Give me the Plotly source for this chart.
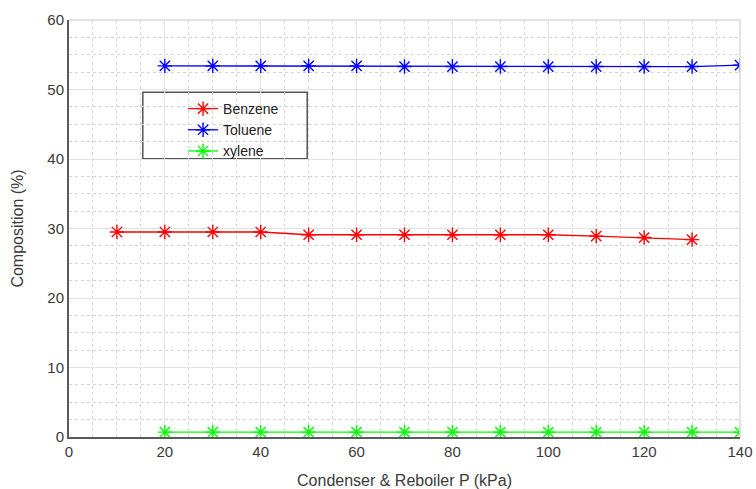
import plotly.graph_objects as go

pressure_benzene = [10, 20, 30, 40, 50, 60, 70, 80, 90, 100, 110, 120, 130]
benzene = [29.5, 29.5, 29.5, 29.5, 29.1, 29.1, 29.1, 29.1, 29.1, 29.1, 28.9, 28.7, 28.4]
pressure = [20, 30, 40, 50, 60, 70, 80, 90, 100, 110, 120, 130, 140]
toluene = [53.4, 53.4, 53.4, 53.4, 53.4, 53.3, 53.3, 53.3, 53.3, 53.3, 53.3, 53.3, 53.5]
xylene = [0.7, 0.7, 0.7, 0.7, 0.7, 0.7, 0.7, 0.7, 0.7, 0.7, 0.7, 0.7, 0.7]

x_ticks = [0, 20, 40, 60, 80, 100, 120, 140]
y_ticks = [0, 10, 20, 30, 40, 50, 60]

font = "Liberation Sans, Arial, sans-serif"

fig = go.Figure()

def add(name, xs, ys, color):
    fig.add_trace(go.Scatter(
        x=xs, y=ys, name=name, mode="lines+markers",
        line=dict(color=color, width=1.3),
        marker=dict(symbol="asterisk-open", size=12, color=color,
                    line=dict(color=color, width=1.4)),
    ))

add("Benzene", pressure_benzene, benzene, "#ff0000")
add("Toluene", pressure, toluene, "#0000ff")
add("xylene", pressure, xylene, "#00ff00")

axis_common = dict(
    showgrid=True, gridcolor="#e2e2e2", gridwidth=1.2,
    showline=True, linecolor="#5a5a5a", linewidth=2,
    ticks="", tickfont=dict(family=font, size=15, color="#3a3a3a"),
    zeroline=False, automargin=False,
)

fig.update_xaxes(
    range=[0, 140], tickvals=x_ticks,
    minor=dict(dtick=5, showgrid=True, gridcolor="#d4d4d4", griddash="dot", gridwidth=1),
    title=dict(text="Condenser & Reboiler P (kPa)", font=dict(family=font, size=16, color="#3a3a3a"), standoff=16),
    **axis_common,
)
fig.update_yaxes(
    range=[0, 60], tickvals=y_ticks,
    minor=dict(dtick=2.5, showgrid=True, gridcolor="#d4d4d4", griddash="dot", gridwidth=1),
    title=dict(text="Composition (%)", font=dict(family=font, size=16, color="#3a3a3a"), standoff=20),
    **axis_common,
)

# plot box top/right edges
fig.add_shape(type="line", xref="paper", yref="paper", x0=0, x1=1, y0=1, y1=1,
              line=dict(color="#d8d8d8", width=1.5))
fig.add_shape(type="line", xref="paper", yref="paper", x0=1, x1=1, y0=0, y1=1,
              line=dict(color="#d8d8d8", width=1.5))
# legend frame
fig.add_shape(type="rect", xref="paper", yref="paper", x0=0.110, x1=0.355, y0=0.667, y1=0.827,
              line=dict(color="#555555", width=1.5), fillcolor="white", layer="between")

fig.update_layout(
    width=756, height=489,
    margin=dict(l=69, r=16, t=20, b=52),
    paper_bgcolor="white", plot_bgcolor="white",
    font=dict(family=font),
    legend=dict(
        x=0.170, y=0.825, xanchor="left", yanchor="top",
        bgcolor="rgba(0,0,0,0)", borderwidth=0,
        font=dict(family=font, size=14, color="#222222"),
        tracegroupgap=0,
    ),
)

fig.write_html("out.html")
